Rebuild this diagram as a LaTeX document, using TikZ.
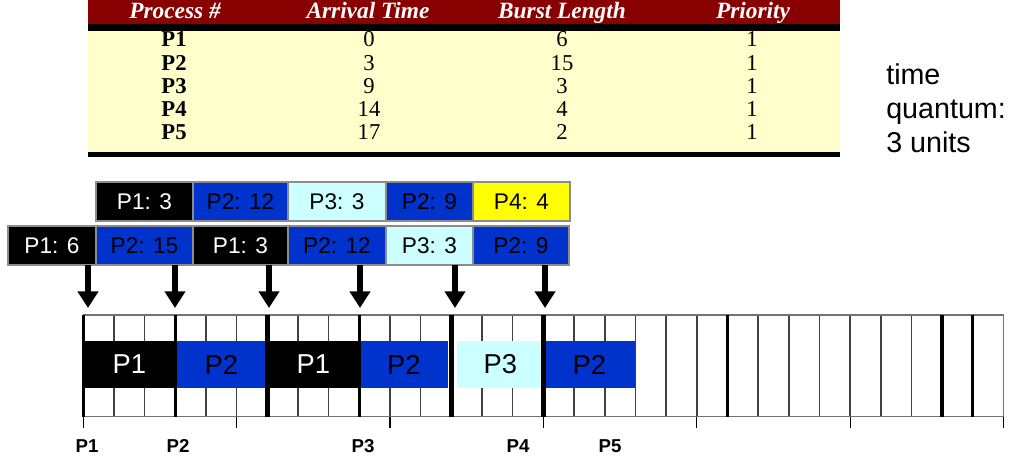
\documentclass[tikz,border=0pt]{standalone}
\usepackage{fontspec}
\setmainfont{Liberation Serif}
\setsansfont{Liberation Sans}
\usepackage{tikz}
\usetikzlibrary{positioning,arrows.meta}

\definecolor{hdred}{HTML}{880000}
\definecolor{tbyel}{HTML}{FFFFCC}
\definecolor{pblue}{HTML}{0033CC}
\definecolor{pcyan}{HTML}{CCFFFF}
\definecolor{pyel}{HTML}{FFFF00}

\begin{document}
\begin{tikzpicture}[x=0.75pt, y=-0.75pt,
  hd/.style={font=\fontsize{17.5}{17.5}\selectfont\bfseries\itshape, text=white, inner sep=0pt, anchor=base},
  num/.style={font=\fontsize{17}{17}\selectfont, inner sep=0pt, anchor=base},
  pnum/.style={font=\fontsize{17}{17}\selectfont\bfseries, inner sep=0pt, anchor=base},
  qbox/.style={draw=black!45, line width=0.9pt, minimum height=29.25pt, inner sep=0pt,
               font=\sffamily\fontsize{17}{17}\selectfont},
  slot/.style={font=\sffamily\fontsize{20.5}{20.5}\selectfont, inner sep=0pt},
  tlab/.style={font=\sffamily\bfseries\fontsize{14}{14}\selectfont, inner sep=0pt},
  arr/.style={line width=4.5pt, -{Triangle[width=15pt,length=12.5pt]}}]

\useasboundingbox (0,0) rectangle (1012,463);
\def\tx{83.3}
\def\cw{30.67}

% process table
\fill[hdred] (88,0) rectangle (840,24);
\fill[black] (88,24) rectangle (840,31);
\fill[tbyel] (88,31) rectangle (840,152);
\fill[black] (88,152) rectangle (840,157);

\node[hd] (hproc) at (175,19) {Process \#};
\node[hd] (harr)  at (368,19) {Arrival Time};
\node[hd] (hbur)  at (562,19) {Burst Length};
\node[hd] (hpri)  at (753,19) {Priority};

\foreach \p/\a/\b/\yb [count=\i] in {P1/0/6/47, P2/3/15/70.5, P3/9/3/94, P4/14/4/117, P5/17/2/140}{
  \node[pnum] (pn\i) at (174,\yb) {\p};
  \node[num]  (at\i) at (369,\yb) {\a};
  \node[num]  (bl\i) at (562,\yb) {\b};
  \node[num]  (pr\i) at (752,\yb) {1};
}

\node[anchor=north west, align=left, inner sep=0pt,
      font=\sffamily\fontsize{21.5}{25.5}\selectfont] (quant) at (886,63) {time\\quantum:\\3 units};

% ready queue, two snapshots
\foreach \n/\l/\r/\f/\t/\s in {1/96/193/black/white/P1: 3, 2/193/288/pblue/black/P2: 12,
    3/288/386/pcyan/black/P3: 3, 4/386/473/pblue/black/P2: 9, 5/473/570/pyel/black/P4: 4}{
  \node[qbox, fill=\f, text=\t, minimum width={(\r-\l)*0.75pt}] (qa\n) at ({(\l+\r)/2},201.5) {\s};
}
\foreach \n/\l/\r/\f/\t/\s in {1/8/96/black/white/P1: 6, 2/96/193/pblue/black/P2: 15,
    3/193/288/black/white/P1: 3, 4/288/386/pblue/black/P2: 12, 5/386/473/pcyan/black/P3: 3,
    6/473/569/pblue/black/P2: 9}{
  \node[qbox, fill=\f, text=\t, minimum width={(\r-\l)*0.75pt}] (qb\n) at ({(\l+\r)/2},245.5) {\s};
}

% dispatch arrows
\foreach \x [count=\i] in {88,175,269,360,455,545}{
  \coordinate (s\i) at (\x,265);
  \coordinate (e\i) at (\x,308);
  \draw[arr] (s\i) -- (e\i);
}

% time line
\fill[white] (\tx,315) rectangle ({\tx+30*\cw},416.7);
\foreach \k in {1,...,29}
  \draw[black!75, line width=1.2pt] ({\tx+\k*\cw},315) -- ({\tx+\k*\cw},416.7);
\draw[black!55, line width=1.1pt] (\tx,315) rectangle ({\tx+30*\cw},416.7);

\foreach \a/\b/\f/\t/\s [count=\i] in {0/3/black/white/P1, 3/6/pblue/black/P2, 6/9/black/white/P1,
    9/11.9/pblue/black/P2, 12.2/15/pcyan/black/P3, 15/18/pblue/black/P2}{
  \fill[\f] ({\tx+\a*\cw},341) rectangle ({\tx+\b*\cw},388);
  \node[slot, text=\t] (g\i) at ({\tx+(\a+\b)/2*\cw},364.5) {\s};
}

\foreach \k/\w in {0/2.3,3/2,6/3.8,9/2.3,12/4.2,15/3.8,21/2.5,28/2.5,29/2.5}
  \draw[line width=\w pt] ({\tx+\k*\cw},315) -- ({\tx+\k*\cw},416.7);

\foreach \k in {0,5,...,30}
  \draw[line width=0.8pt] ({\tx+\k*\cw},416.7) -- ++(0,11);

\foreach \s/\x [count=\i] in {P1/87, P2/178, P3/363, P4/518, P5/610}
  \node[tlab] (ar\i) at (\x,446) {\s};
\end{tikzpicture}
\end{document}
